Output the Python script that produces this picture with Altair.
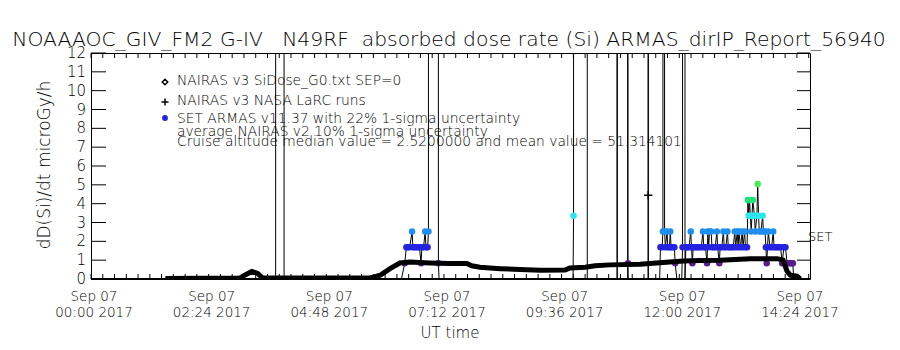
import altair as alt
import pandas as pd

# ---------------- data (minutes after 2017-09-07 00:00 UT, microGy/h) ----------------
# NAIRAS v3 SiDose_G0 (thick black curve)
nairas_t = [91, 182, 188, 197, 204, 210, 341, 354, 366, 378, 390, 415, 439, 460, 466, 476,
            501, 525, 550, 580, 586, 605, 617, 635, 672, 696, 725, 745, 770, 807, 840, 847,
            852, 856, 864, 868]
nairas_v = [0.03, 0.05, 0.2, 0.4, 0.3, 0.05, 0.05, 0.2, 0.55, 0.85, 0.9, 0.85, 0.82, 0.82, 0.7, 0.62,
            0.55, 0.5, 0.47, 0.48, 0.58, 0.62, 0.7, 0.75, 0.78, 0.86, 0.95, 0.98, 1.0, 1.08, 1.08, 1.0,
            0.4, 0.2, 0.15, 0.0]

# SET ARMAS v11.37 measurements (connected by a thin line; very large values are spikes)
armas_t = [100, 226, 228, 236, 236.3, 380,
           384, 386, 388, 390, 393, 394, 396, 398, 400, 402, 404, 405, 407, 409, 410, 412, 413, 414,
           425, 425.2, 426,
           590, 590.6, 591, 607, 607.4, 643.8, 644, 644.2, 656.8, 657, 657.2, 657.5, 681.8, 682, 682.2, 696,
           697, 699, 700, 701, 702, 703, 705, 706, 708, 709, 710, 712, 714, 715, 717, 723, 724, 725, 727,
           728, 730, 732, 734, 735, 736, 737, 739, 741, 743, 745, 747, 749, 750, 752, 754, 755, 756, 757,
           759, 760, 762, 764, 766, 767, 769, 770, 772, 774, 775, 777, 779, 780, 782, 784, 786, 788, 789,
           791, 792, 793, 795, 797, 798, 800, 801, 803, 804, 805, 806, 807, 808, 809, 810, 812, 813, 815,
           816, 817, 818, 820, 822, 823, 825, 826, 827, 828, 829, 831, 833, 835, 836, 838, 840, 842, 844,
           846, 848, 850, 852, 854, 856, 858, 859, 860]
armas_v = [0, 0, 1000, 1000, 0, 0,
           0.84, 1.68, 1.68, 1.68, 2.52, 1.68, 1.68, 1.68, 1.68, 1.68, 0.84, 1.68, 1.68, 2.52, 1.68, 1.68, 2.52, 1000,
           1000, 0.84, 0,
           0, 3.36, 1000, 1000, 0, 0, 1000, 0, 0, 1000, 0.84, 0, 0, 1000, 0, 0,
           1.68, 1.68, 2.52, 1000, 2.52, 1.68, 2.52, 1.68, 1.68, 2.52, 1.68, 1.68, 1.68, 0.84, 0, 0, 1.68, 1000, 0,
           1.68, 1.68, 1.68, 2.52, 1.68, 0.84, 1.68, 1.68, 1.68, 1.68, 1.68, 1.68, 2.52, 1.68, 1.68, 0.84, 2.52, 1.68, 2.52,
           2.52, 1.68, 1.68, 1.68, 2.52, 1.68, 0.84, 1.68, 1.68, 2.52, 1.68, 1.68, 2.52, 1.68, 1.68, 1.68, 1.68, 2.52, 1.68,
           2.52, 1.68, 2.52, 1.68, 2.52, 1.68, 2.52, 1.68, 1.68, 4.2, 3.36, 4.2, 3.36, 2.52, 3.36, 4.2, 3.36, 2.52, 3.36,
           5.04, 3.36, 2.52, 2.52, 3.36, 2.52, 2.52, 1.68, 0.84, 1.68, 2.52, 1.68, 1.68, 2.52, 1.68, 1.68, 1.68, 1.68, 1.68,
           0.84, 1.68, 1.68, 0.84, 0.84, 0.84, 0.84, 0.84, 0]

# NAIRAS v3 NASA LaRC run
larc_t = [682]
larc_v = [4.45]

# axis labels
x_tick_t = [0, 144, 288, 432, 576, 720, 864]
x_tick_labels = ["Sep 07\n00:00 2017", "Sep 07\n02:24 2017", "Sep 07\n04:48 2017", "Sep 07\n07:12 2017",
                 "Sep 07\n09:36 2017", "Sep 07\n12:00 2017", "Sep 07\n14:24 2017"]
y_tick_v = list(range(0, 13))
x_minor_t = [i * 14.4 for i in range(62)]

title_text = "NOAAAOC_GIV_FM2 G-IV\u00a0\u00a0\u00a0N49RF\u00a0\u00a0absorbed dose rate (Si) ARMAS_dirIP_Report_56940"
legend_lines = ["NAIRAS v3 SiDose_G0.txt SEP=0",
                "NAIRAS v3 NASA LaRC runs",
                "SET ARMAS v11.37 with 22% 1-sigma uncertainty",
                "average NAIRAS v2 10% 1-sigma uncertainty",
                "Cruise altitude median value = 2.5200000 and mean value = 51.314101"]

# ---------------- chart ----------------
FONT = "DejaVu Sans"
FW = 200
W, H = 719, 226
xs = alt.Scale(domain=[0, 880], nice=False, zero=False)
ys = alt.Scale(domain=[0, 12], nice=False, zero=False)

nairas = pd.DataFrame({"t": nairas_t, "v": nairas_v})
armas = pd.DataFrame({"t": armas_t, "v": armas_v, "i": range(len(armas_t))})
larc = pd.DataFrame({"t": larc_t, "v": larc_v})
xt = pd.DataFrame({"t": x_tick_t, "lab": x_tick_labels})
yt = pd.DataFrame({"v": y_tick_v})
xm = pd.DataFrame({"t": x_minor_t})

X = alt.X("t:Q", scale=xs, axis=None)
Y = alt.Y("v:Q", scale=ys, axis=None)

armas_line = alt.Chart(armas).mark_line(color="black", strokeWidth=1, clip=True).encode(
    x=X, y=Y, order="i:Q")
armas_dots = alt.Chart(armas).transform_filter(
    (alt.datum.v > 0) & (alt.datum.v <= 12)
).mark_circle(size=42, opacity=1, clip=True).encode(
    x=X, y=Y,
    color=alt.Color("v:Q", legend=None, scale=alt.Scale(
        type="threshold", domain=[1.2, 2.1, 2.9, 3.8, 4.6],
        range=["#5B1A8E", "#2323E0", "#1E8FF0", "#2BE6EE", "#22E07A", "#44EE55"])))
nairas_line = alt.Chart(nairas).mark_line(color="black", strokeWidth=5, clip=True).encode(x=X, y=Y)
plus = "M -1 0 L 1 0 M 0 -1 L 0 1"
larc_pts = alt.Chart(larc).mark_point(shape=plus, size=70, color="black", strokeWidth=1.5,
                                      filled=False, opacity=1).encode(x=X, y=Y)

# ticks
yl_ticks = alt.Chart(yt).mark_rule(color="black", strokeWidth=1).encode(
    y=Y, x=alt.value(0), x2=alt.value(15))
yr_ticks = alt.Chart(yt).mark_rule(color="black", strokeWidth=1).encode(
    y=Y, x=alt.value(W - 13), x2=alt.value(W))
xb_ticks = alt.Chart(xm).mark_rule(color="black", strokeWidth=1).encode(
    x=X, y=alt.value(H), y2=alt.value(H - 5))
xt_ticks = alt.Chart(xm).mark_rule(color="black", strokeWidth=1).encode(
    x=X, y=alt.value(0), y2=alt.value(5))
bottom_line = alt.Chart(yt).mark_rule(color="black", strokeWidth=2).encode(
    x=alt.value(0), x2=alt.value(W), y=alt.value(H))

# tick labels
y_labels = alt.Chart(yt).mark_text(align="right", baseline="middle", font=FONT, fontSize=15,
                                   fontWeight=FW, color="black").encode(
    y=Y, x=alt.value(-5), text=alt.Text("v:Q"))
x_labels = alt.Chart(xt).mark_text(align="center", baseline="top", font=FONT, fontSize=13.5,
                                   fontWeight=FW, lineBreak="\n", lineHeight=16, color="black",
                                   dx=3).encode(
    x=X, y=alt.value(H + 11), text="lab:N")


def txt(s, x, y, size, align="left", angle=0, baseline="middle"):
    kw = dict(align=align, baseline=baseline, font=FONT, fontSize=size, fontWeight=FW, color="black")
    if angle:
        kw["angle"] = angle
    return alt.Chart(pd.DataFrame({"s": [s]})).mark_text(**kw).encode(
        x=alt.value(x), y=alt.value(y), text="s:N")


texts = [
    txt(title_text, 358, -7, 20.3, align="center", baseline="alphabetic"),
    txt("dD(Si)/dt microGy/h", -46, 112, 17, align="center", angle=270),
    txt("UT time", 359, 280, 15, align="center"),
    txt("SET", 717, 184, 13),
]
leg_y = [28, 48, 66, 79, 89]
for s, yy in zip(legend_lines, leg_y):
    texts.append(txt(s, 86, yy, 13.8))

sym = pd.DataFrame({"a": [0]})
leg_diamond = alt.Chart(sym).mark_point(shape="diamond", size=30, color="black", filled=False,
                                        strokeWidth=1.5, opacity=1).encode(
    x=alt.value(74), y=alt.value(29))
leg_plus = alt.Chart(sym).mark_point(shape=plus, size=50, color="black", filled=False,
                                     strokeWidth=1.5, opacity=1).encode(
    x=alt.value(74), y=alt.value(49))
leg_dot = alt.Chart(sym).mark_circle(size=34, color="#1E22E6", opacity=1).encode(
    x=alt.value(74), y=alt.value(65))

chart = alt.layer(
    armas_line, armas_dots, nairas_line, larc_pts,
    yl_ticks, yr_ticks, xb_ticks, xt_ticks, bottom_line,
    y_labels, x_labels, leg_diamond, leg_plus, leg_dot, *texts
).properties(
    width=W, height=H,
    autosize=alt.AutoSizeParams(type="none"),
    padding={"left": 91, "top": 53, "right": 90, "bottom": 71},
    background="white",
).configure_view(stroke="black", strokeWidth=1)

chart.save("out.html", embed_options={"renderer": "svg", "actions": False})
